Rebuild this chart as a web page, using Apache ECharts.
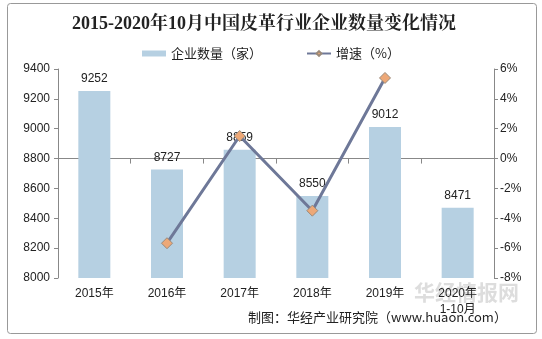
<!DOCTYPE html>
<html><head><meta charset="utf-8">
<script src="https://cdn.jsdelivr.net/npm/echarts@6/dist/echarts.min.js"></script>
<style>html,body{margin:0;padding:0;background:#fff}#c{width:542px;height:339px}</style>
</head><body><div id="c"></div>
<script>
const categories = ['2015年','2016年','2017年','2018年','2019年','2020年\n1-10月'];
const companyCounts = [9252, 8727, 8859, 8550, 9012, 8471];
const growthRates = [null, -5.67, 1.51, -3.49, 5.40, null];
const leftTicks = [8000, 9400, 200];
const rightTicks = [-8, 6, 2];

const chart = echarts.init(document.getElementById('c'));
const font = 'Liberation Sans, Arial, Noto Sans CJK SC, sans-serif';
chart.setOption({
  animation: false,
  backgroundColor: '#fff',
  title: {
    text: '2015-2020年10月中国皮革行业企业数量变化情况',
    left: 67, top: 10,
    textStyle: {fontFamily: 'Liberation Serif, Noto Serif CJK SC, Noto Sans CJK SC, serif', fontWeight: 'bold', fontSize: 18, color: '#222'}
  },
  legend: {
    top: 42, left: 'center', itemGap: 44, itemWidth: 24, itemHeight: 6,
    textStyle: {fontFamily: 'Noto Sans CJK SC, sans-serif', fontSize: 13, color: '#222'},
    data: [
      {name: '企业数量（家）', icon: 'rect'},
      {name: '增速（%）'}
    ]
  },
  grid: {left: 58, right: 48, top: 69, bottom: 61},
  xAxis: {
    type: 'category', data: categories,
    axisLine: {lineStyle: {color: '#888'}},
    axisTick: {show: true, alignWithLabel: false, length: 5, lineStyle: {color: '#888'}},
    axisLabel: {color: '#222', fontSize: 12, fontFamily: font, margin: 8, lineHeight: 16}
  },
  yAxis: [
    {
      type: 'value', min: leftTicks[0], max: leftTicks[1], interval: leftTicks[2],
      axisLine: {show: true, lineStyle: {color: '#888'}},
      axisTick: {show: true, length: 4, lineStyle: {color: '#888'}},
      splitLine: {show: false},
      axisLabel: {color: '#222', fontSize: 12, fontFamily: font, margin: 8, formatter: v => String(v)}
    },
    {
      type: 'value', min: rightTicks[0], max: rightTicks[1], interval: rightTicks[2],
      axisLine: {show: true, lineStyle: {color: '#888'}},
      axisTick: {show: true, length: 4, lineStyle: {color: '#888'}},
      splitLine: {show: false},
      axisLabel: {color: '#222', fontSize: 12, fontFamily: font, margin: 6, formatter: v => v + '%'}
    }
  ],
  series: [
    {
      name: '企业数量（家）', type: 'bar', data: companyCounts, barWidth: 32,
      itemStyle: {color: '#b6d0e2'},
      label: {show: true, position: 'top', distance: 6, color: '#222', fontSize: 12, fontFamily: font}
    },
    {
      name: '增速（%）', type: 'line', yAxisIndex: 1, data: growthRates,
      symbol: 'diamond', symbolSize: 11,
      lineStyle: {color: '#6e7898', width: 3},
      itemStyle: {color: '#eda877', borderColor: '#9a8a7a', borderWidth: 1},
      z: 5
    }
  ],
  graphic: [
    {type: 'rect', shape: {x: 7.5, y: 3.5, width: 529, height: 330, r: 3}, style: {fill: 'none', stroke: '#999', lineWidth: 1}, silent: true, z: -1},
    {type: 'text', left: 414, top: 282, style: {text: '华经情报网', fill: 'rgba(170,170,170,0.4)', font: 'bold 21px Noto Sans CJK SC'}, z: -1},
    {type: 'text', left: 248, top: 311, style: {text: '制图：华经产业研究院（www.huaon.com）', fill: '#222', font: '13px Noto Sans CJK SC'}}
  ]
});
</script></body></html>
